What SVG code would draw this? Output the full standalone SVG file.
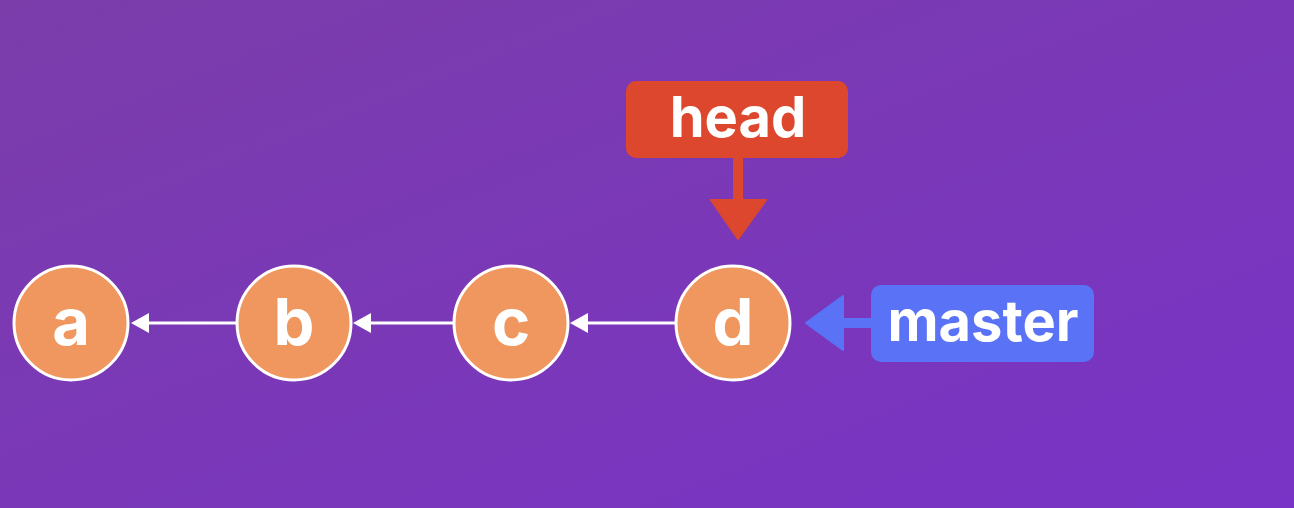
<svg xmlns="http://www.w3.org/2000/svg" width="1294" height="508" viewBox="0 0 1294 508">
<defs>
<linearGradient id="bg" x1="0" y1="0" x2="1" y2="1">
<stop offset="0" stop-color="#7B3DAA"/>
<stop offset="1" stop-color="#7933C6"/>
</linearGradient>
</defs>
<style>
.commit circle{fill:#EF975E;stroke:#FFFFFF;stroke-width:3}
.commit text,.ref text{font-family:"Inter","Liberation Sans",sans-serif;font-weight:700;fill:#FFFFFF;text-anchor:middle}
.commit text{font-size:65px}
.ref text{font-size:56px}
.link line{stroke:#FFFFFF;stroke-width:3}
.link polygon{fill:#FFFFFF}
</style>
<rect width="1294" height="508" fill="url(#bg)"/>
<g id="connectors">
<g class="link"><line x1="236" y1="323" x2="145" y2="323"/><polygon points="131,323 149,313 149,333"/></g>
<g class="link"><line x1="453" y1="323" x2="368" y2="323"/><polygon points="353,323 371,313 371,333"/></g>
<g class="link"><line x1="675" y1="323" x2="585" y2="323"/><polygon points="570,323 588,313 588,333"/></g>
<g id="head-arrow"><rect x="733" y="156" width="10" height="48" fill="#DC472D"/><polygon points="711,200 766,200 738,239" fill="#DC472D" stroke="#DC472D" stroke-width="2" stroke-linejoin="round"/></g>
<g id="master-arrow"><rect x="838" y="318" width="36" height="10" fill="#5A72F6"/><polygon points="843,296 843,350 806,323" fill="#5A72F6" stroke="#5A72F6" stroke-width="2" stroke-linejoin="round"/></g>
</g>
<g id="a" class="commit"><circle cx="71" cy="323" r="57"/><text x="71" y="345">a</text></g>
<g id="b" class="commit"><circle cx="294" cy="323" r="57"/><text x="294" y="345">b</text></g>
<g id="c" class="commit"><circle cx="511" cy="323" r="57"/><text x="511" y="345">c</text></g>
<g id="d" class="commit"><circle cx="733" cy="323" r="57"/><text x="733" y="345">d</text></g>
<g id="head" class="ref"><rect x="626" y="81" width="222" height="77" rx="10" fill="#DC472D"/><text x="738" y="137">head</text></g>
<g id="master" class="ref"><rect x="871" y="285" width="223" height="77" rx="10" fill="#5A72F6"/><text x="983" y="341">master</text></g>
</svg>
